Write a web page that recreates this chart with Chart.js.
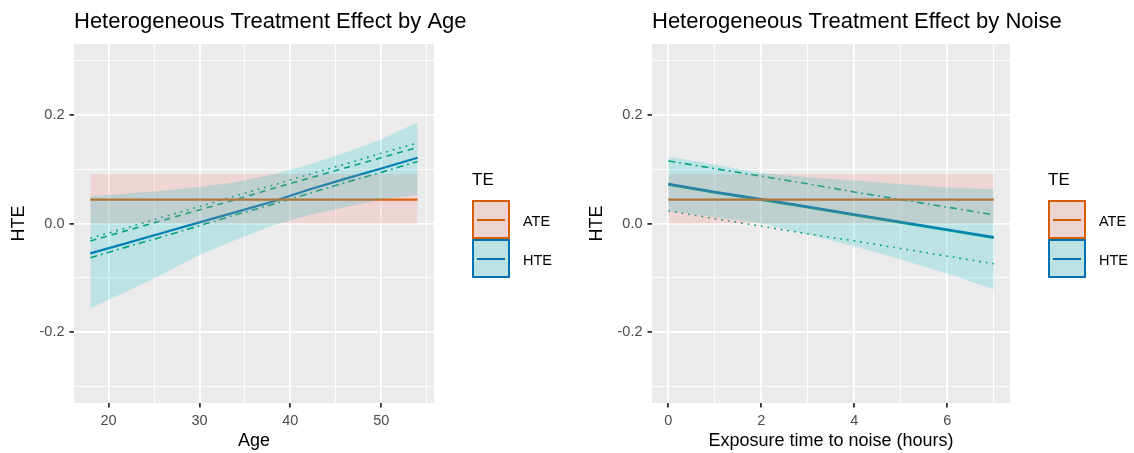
<!DOCTYPE html>
<html>
<head>
<meta charset="utf-8">
<script src="https://cdn.jsdelivr.net/npm/chart.js@4.4.1/dist/chart.umd.min.js"></script>
<style>
  body { margin: 0; background: #fff; font-family: "Liberation Sans", Arial, sans-serif; }
  #wrap { position: relative; width: 1134px; height: 453px; overflow: hidden; }
  canvas { position: absolute; top: 0; }
  .legend { position: absolute; top: 0; width: 80px; height: 300px; }
  .legend .lt { position: absolute; left: 0; top: 170.6px; font-size: 17px; line-height: 17px; color: #000; }
  .legend .key { position: absolute; left: 0; width: 34px; height: 35px; background: #ebebeb; }
  .legend .key i { position: absolute; left: 3px; right: 3px; top: 16.5px; height: 2px; }
  .legend .lab { position: absolute; left: 51px; font-size: 14.5px; line-height: 14.5px; color: #000; }
</style>
</head>
<body>
<div id="wrap">
  <canvas id="ageChart" width="480" height="453" style="left:0"></canvas>
  <canvas id="noiseChart" width="556" height="453" style="left:578px"></canvas>

  <div class="legend" style="left:472px">
    <div class="lt">TE</div>
    <div class="key" style="top:200px; background:rgb(237,212,210); border:2px solid #D55E00"><i style="background:#D55E00"></i></div>
    <div class="lab" style="top:213.9px">ATE</div>
    <div class="key" style="top:239px; background:rgb(188,226,227); border:2px solid #0072B2"><i style="background:#0072B2"></i></div>
    <div class="lab" style="top:252.5px">HTE</div>
  </div>
  <div class="legend" style="left:1048px">
    <div class="lt">TE</div>
    <div class="key" style="top:200px; background:rgb(237,212,210); border:2px solid #D55E00"><i style="background:#D55E00"></i></div>
    <div class="lab" style="top:213.9px">ATE</div>
    <div class="key" style="top:239px; background:rgb(188,226,227); border:2px solid #0072B2"><i style="background:#0072B2"></i></div>
    <div class="lab" style="top:252.5px">HTE</div>
  </div>
</div>

<script>
// ----- shared y axis -----
const yMajor = [-0.2, 0, 0.2];
const yMinor = [-0.3, -0.1, 0.1, 0.3];
const yLabels = ['-0.2', '0.0', '0.2'];

// ----- panel 1: by age -----
const ageX = [18, 22, 26, 30, 34, 38, 42, 46, 50, 54];
const ageHte = [-0.055, -0.036, -0.017, 0.002, 0.021, 0.040, 0.062, 0.082, 0.101, 0.121];
const ageHteLo = [-0.156, -0.125, -0.093, -0.058, -0.030, -0.004, 0.015, 0.030, 0.044, 0.053];
const ageHteHi = [0.050, 0.055, 0.060, 0.067, 0.076, 0.090, 0.108, 0.130, 0.155, 0.186];
const ageDotted = [-0.027, -0.008, 0.012, 0.031, 0.051, 0.070, 0.090, 0.109, 0.129, 0.148];
const ageDashed = [-0.032, -0.013, 0.006, 0.025, 0.044, 0.064, 0.083, 0.102, 0.121, 0.140];
const ageDashDot = [-0.063, -0.043, -0.024, -0.004, 0.016, 0.035, 0.055, 0.075, 0.094, 0.114];
const ageAteX = [18, 54];
const ageAte = [0.044, 0.044];
const ageAteLo = [0, 0];
const ageAteHi = [0.091, 0.091];
const ageMajor = [20, 30, 40, 50];
const ageMinor = [25, 35, 45, 55];

// ----- panel 2: by noise -----
const noiseX = [0, 1, 2, 3, 4, 5, 6, 7];
const noiseHte = [0.073, 0.058, 0.045, 0.031, 0.017, 0.003, -0.011, -0.025];
const noiseSolid = [0.071, 0.056, 0.043, 0.029, 0.015, 0.001, -0.013, -0.027];
const noiseHteLo = [0.023, 0.012, 0.000, -0.020, -0.042, -0.066, -0.092, -0.121];
const noiseHteHi = [0.123, 0.108, 0.093, 0.085, 0.079, 0.072, 0.066, 0.063];
const noiseDashDot = [0.115, 0.101, 0.087, 0.073, 0.058, 0.044, 0.030, 0.016];
const noiseDotted = [0.023, 0.009, -0.005, -0.019, -0.032, -0.046, -0.060, -0.074];
const noiseAteX = [0, 7];
const noiseAte = [0.044, 0.044];
const noiseAteLo = [0, 0];
const noiseAteHi = [0.091, 0.091];
const noiseMajor = [0, 2, 4, 6];
const noiseMinor = [1, 3, 5, 7];

const FONT = '"Liberation Sans", Arial, sans-serif';
const GREEN = '#009E73', BLUE = '#0072B2', ORANGE = '#D55E00';
const DOTTED = [1.8, 4.9], DASHED = [6, 5], DOTDASH = [7, 4, 1.8, 4];

function pts(xs, ys) {
    return xs.map((x, i) => ({ x: x, y: ys[i] }));
}

function line(xs, ys, color, width, dash, order) {
    return {
        data: pts(xs, ys), borderColor: color, borderWidth: width, borderDash: dash,
        pointRadius: 0, fill: false, tension: 0, order: order
    };
}

function band(xs, lo, hi, fillColor) {
    return [
        { data: pts(xs, lo), borderColor: 'transparent', borderWidth: 0, pointRadius: 0, fill: false, order: 0 },
        { data: pts(xs, hi), borderColor: 'transparent', borderWidth: 0, pointRadius: 0, fill: '-1', backgroundColor: fillColor, order: 0 }
    ];
}

function has(list, v) {
    return list.some(m => Math.abs(m - v) < 1e-9);
}

const panelPlugin = {
    id: 'panel',
    beforeDraw(chart) {
        const a = chart.chartArea, ctx = chart.ctx;
        ctx.save();
        ctx.fillStyle = '#EBEBEB';
        ctx.fillRect(a.left, a.top, a.right - a.left, a.bottom - a.top);
        ctx.restore();
    },
    afterDraw(chart) {
        const ctx = chart.ctx;
        ctx.save();
        ctx.fillStyle = '#000';
        ctx.font = '22px ' + FONT;
        ctx.textBaseline = 'alphabetic';
        ctx.fillText(chart.options.plugins.panel.text, chart.chartArea.left, 27.5);
        ctx.restore();
    }
};

function makeChart(id, title, xTitle, xMin, xMax, xMajor, xMinor, datasets, padRight) {
    const canvas = document.getElementById(id);
    return new Chart(canvas.getContext('2d'), {
        type: 'line',
        data: { datasets: datasets },
        plugins: [panelPlugin],
        options: {
            responsive: false,
            animation: false,
            layout: { padding: { top: 44, left: 0, right: padRight, bottom: 0 } },
            plugins: {
                legend: { display: false },
                tooltip: { enabled: false },
                panel: { text: title }
            },
            scales: {
                x: {
                    type: 'linear', min: xMin, max: xMax,
                    afterBuildTicks: s => { s.ticks = xMajor.concat(xMinor).sort((a, b) => a - b).map(v => ({ value: v })); },
                    afterFit: s => { s.height = 50; },
                    border: { display: false },
                    grid: {
                        color: '#fff',
                        lineWidth: c => (c.tick && has(xMajor, c.tick.value)) ? 1.8 : 0.9,
                        tickColor: c => (c.tick && has(xMajor, c.tick.value)) ? '#333' : 'rgba(0,0,0,0)',
                        tickLength: 4.5
                    },
                    ticks: {
                        autoSkip: false, maxRotation: 0, padding: 5,
                        color: '#4D4D4D', font: { size: 14.5, family: FONT },
                        callback: v => has(xMajor, v) ? String(v) : ''
                    },
                    title: { display: true, text: xTitle, color: '#000', font: { size: 18, family: FONT }, padding: { top: 0, bottom: 1 } }
                },
                y: {
                    type: 'linear', min: -0.33, max: 0.33,
                    afterBuildTicks: s => { s.ticks = yMajor.concat(yMinor).sort((a, b) => a - b).map(v => ({ value: v })); },
                    afterFit: s => { s.width = 74; },
                    border: { display: false },
                    grid: {
                        color: '#fff',
                        lineWidth: c => (c.tick && has(yMajor, c.tick.value)) ? 1.8 : 0.9,
                        tickColor: c => (c.tick && has(yMajor, c.tick.value)) ? '#333' : 'rgba(0,0,0,0)',
                        tickLength: 4.5
                    },
                    ticks: {
                        autoSkip: false, padding: 5,
                        color: '#4D4D4D', font: { size: 14.5, family: FONT },
                        callback: v => {
                            const k = yMajor.findIndex(m => Math.abs(m - v) < 1e-9);
                            return k >= 0 ? yLabels[k] : '';
                        }
                    },
                    title: { display: true, text: 'HTE', color: '#000', font: { size: 18, family: FONT }, padding: { top: 8.5, bottom: 0 } }
                }
            }
        }
    });
}

// ===== Age panel =====
makeChart('ageChart', 'Heterogeneous Treatment Effect by Age', 'Age', 16.2, 55.8, ageMajor, ageMinor, [
    ...band(ageX, ageHteLo, ageHteHi, 'rgba(0,191,196,0.2)'),
    ...band(ageAteX, ageAteLo, ageAteHi, 'rgba(248,118,109,0.2)'),
    line(ageAteX, ageAte, ORANGE, 2.2, [], 2),
    line(ageX, ageHte, BLUE, 2.2, [], 2),
    line(ageX, ageDotted, GREEN, 1.6, DOTTED, 3),
    line(ageX, ageDashed, GREEN, 1.6, DASHED, 3),
    line(ageX, ageDashDot, GREEN, 1.6, DOTDASH, 3)
], 46);

// ===== Noise panel =====
makeChart('noiseChart', 'Heterogeneous Treatment Effect by Noise', 'Exposure time to noise (hours)', -0.35, 7.35, noiseMajor, noiseMinor, [
    ...band(noiseX, noiseHteLo, noiseHteHi, 'rgba(0,191,196,0.2)'),
    ...band(noiseAteX, noiseAteLo, noiseAteHi, 'rgba(248,118,109,0.2)'),
    line(noiseAteX, noiseAte, ORANGE, 2.2, [], 2),
    line(noiseX, noiseHte, BLUE, 2.2, [], 2),
    line(noiseX, noiseSolid, GREEN, 1.6, [], 3),
    line(noiseX, noiseDashDot, GREEN, 1.6, DOTDASH, 3),
    line(noiseX, noiseDotted, GREEN, 1.6, DOTTED, 3)
], 124);
</script>
</body>
</html>
